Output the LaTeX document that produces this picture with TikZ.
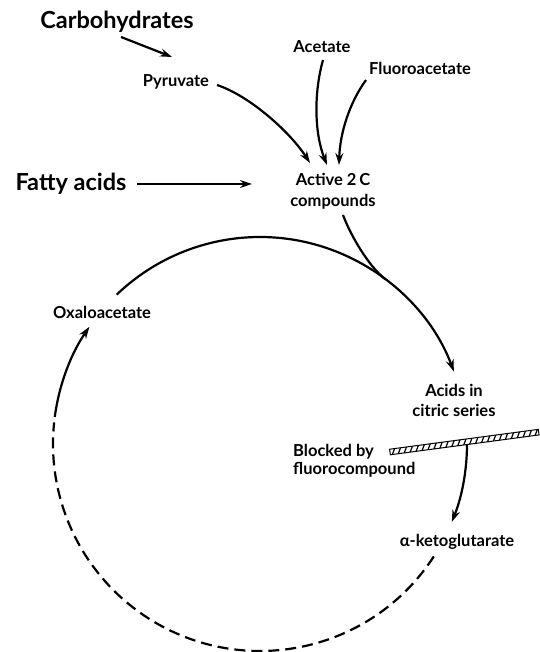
\documentclass[tikz,border=0pt]{standalone}
\usepackage{fontspec}
\setmainfont{Lato}
\usetikzlibrary{arrows.meta}
\begin{document}
\begin{tikzpicture}[x=1pt,y=1pt,
  big/.style={font=\fontsize{23.5}{26}\selectfont\bfseries, inner sep=0},
  lbl/.style={font=\fontsize{16.5}{21}\selectfont\bfseries, inner sep=0, align=center},
  tip/.style={-{Stealth[length=12pt,width=8pt,inset=4pt]}},
  arr/.style={line width=2.2pt, tip},
  ln/.style={line width=2.2pt},
  dsh/.style={line width=2.2pt, dash pattern=on 11pt off 6pt}]
\useasboundingbox (0,0) rectangle (539,652);
\coordinate (c) at (260,208);
% texts
\node[big] (carb) at (117,630) {Carbohydrates};
\node[lbl] (pyr) at (176,570) {Pyruvate};
\node[lbl] (acet) at (322,605) {Acetate};
\node[lbl] (fluo) at (420,584) {Fluoroacetate};
\node[big] (fatty) at (71,468) {Fatty acids};
\node[lbl] (active) at (333,461) {Active 2\,C\\compounds};
\node[lbl, font=\fontsize{16.5}{20}\selectfont\bfseries] (acids) at (454,252) {Acids in\\citric series};
\node[lbl, anchor=west, align=left, font=\fontsize{16.5}{18}\selectfont\bfseries] (blk) at (293,191) {Blocked by\\fluorocompound};
\node[lbl] (oxa) at (102,340) {Oxaloacetate};
\node[lbl] (akg) at (457,110) {α-ketoglutarate};
% coordinates
\coordinate (carbS) at (121,615);
\coordinate (carbE) at (172,595);
\coordinate (pyrS) at (217,567);
\coordinate (actE1) at (310,489);
\coordinate (acetS) at (323,592);
\coordinate (actE2) at (327,487);
\coordinate (fluoS) at (366,572);
\coordinate (actE3) at (339,487);
\coordinate (fatS) at (137,468);
\coordinate (fatE) at (252,468);
\coordinate (compS) at (343,437);
\coordinate (join) at ([shift={(52.6:207)}]c);
% arrows into active
\draw[arr] (carbS) -- (carbE);
\draw[arr] (pyrS) .. controls (250,556) and (290,520) .. (actE1);
\draw[arr] (acetS) .. controls (314,560) and (314,520) .. (actE2);
\draw[arr] (fluoS) .. controls (350,550) and (340,520) .. (actE3);
\draw[arr] (fatS) -- (fatE);
\draw[ln] (compS) .. controls (350,418) and (368,386) .. (join);
% cycle
\draw[arr] ([shift={(133.8:207)}]c) arc[start angle=133.8, end angle=20.5, radius=207];
\draw[arr] ([shift={(0:207)}]c) arc[start angle=0, end angle=-22.1, radius=207];
\draw[dsh] ([shift={(-32.9:207)}]c) arc[start angle=-32.9, end angle=-186, radius=207];
\draw[arr] ([shift={(-187.5:207)}]c) arc[start angle=-187.5, end angle=-214.5, radius=207];
% hatched bar
\begin{scope}[shift={(390,200)}, rotate=7.6]
  \fill[white] (0,-2.8) rectangle (150,2.8);
  \draw[line width=1pt] (0,-2.8) rectangle (150,2.8);
  \foreach \i in {2,8,...,146} \draw[line width=1.2pt] (\i,-2.8) -- (\i+3,2.8);
\end{scope}
\end{tikzpicture}
\end{document}
